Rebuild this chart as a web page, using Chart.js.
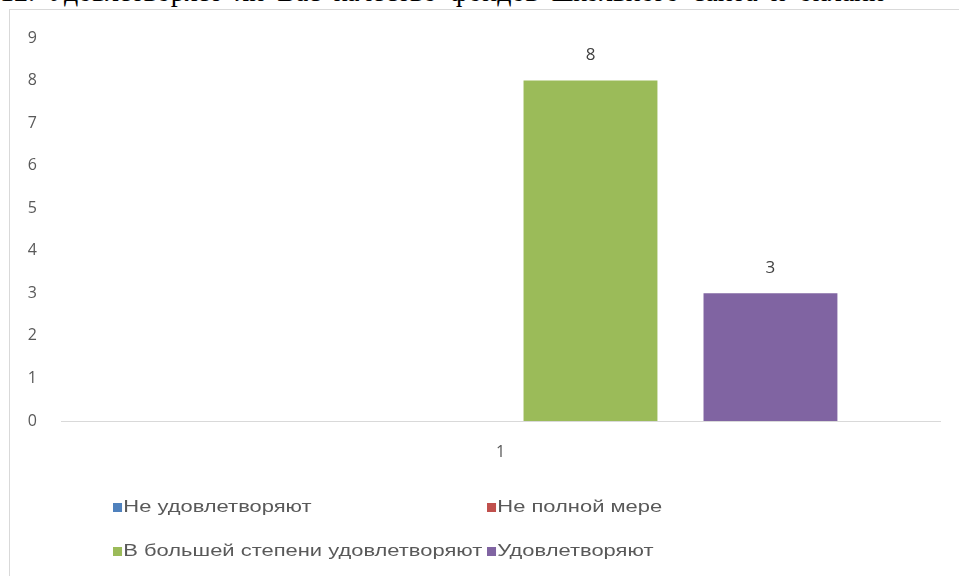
<!DOCTYPE html>
<html>
<head>
<meta charset="utf-8">
<script src="https://cdn.jsdelivr.net/npm/chart.js@4/dist/chart.umd.min.js"></script>
<style>
    body { margin: 0; width: 959px; height: 576px; overflow: hidden; background: #fff; position: relative; }
    #caption {
        position: absolute; left: 0; top: -22px; white-space: nowrap;
        font-family: "Liberation Serif", serif; font-size: 28px; line-height: 28px; color: #000;
        word-spacing: 6px;
    }
    #frame {
        position: absolute; left: 9px; top: 9px; width: 1000px; height: 600px;
        border: 1px solid #d9d9d9; box-sizing: border-box;
    }
    #chartBox { position: absolute; left: 0; top: 0; width: 959px; height: 576px; }
    .legend {
        position: absolute; font-family: "Liberation Sans", sans-serif;
        font-size: 17px; color: #595959; white-space: nowrap; line-height: 20px;
        transform: scaleX(1.29); transform-origin: 0 50%;
    }
    .legend i { display: inline-block; width: 7px; height: 9px; margin-right: 1px; vertical-align: 0px; }
</style>
</head>
<body>
<div id="caption">12. Удовлетворяет ли Вас качество фондов школьного сайта и онлайн</div>
<div id="frame"></div>
<div id="chartBox"><canvas id="chart"></canvas></div>
<div id="legend"></div>

<script>
const categories = ['1'];
const seriesNames = ['Не удовлетворяют', 'Не полной мере', 'В большей степени удовлетворяют', 'Удовлетворяют'];
const seriesValues = [[0], [0], [8], [3]];
const seriesColors = ['#4f81bd', '#c0504d', '#9bbb59', '#8064a2'];
const yTicks = [0, 1, 2, 3, 4, 5, 6, 7, 8, 9];

// values above bars, skipping zeros like the original
const valueLabels = {
    id: 'valueLabels',
    afterDatasetsDraw(chart) {
        const ctx = chart.ctx;
        ctx.save();
        ctx.font = '17px "Open Sans", sans-serif';
        ctx.fillStyle = '#404040';
        ctx.textAlign = 'center';
        ctx.textBaseline = 'middle';
        chart.data.datasets.forEach((ds, i) => {
            chart.getDatasetMeta(i).data.forEach((bar, j) => {
                if (!ds.data[j]) return;
                ctx.fillText(ds.data[j], bar.x, bar.y - 25);
            });
        });
        ctx.restore();
    }
};

new Chart(document.getElementById('chart'), {
    type: 'bar',
    data: {
        labels: categories,
        datasets: seriesNames.map((name, i) => ({
            label: name,
            data: seriesValues[i],
            backgroundColor: seriesColors[i],
            categoryPercentage: 0.819,
            barPercentage: 0.744
        }))
    },
    options: {
        responsive: true,
        maintainAspectRatio: false,
        animation: false,
        layout: { padding: { left: 10, right: 19, top: 38, bottom: 115 } },
        plugins: { legend: { display: false }, tooltip: { enabled: false } },
        scales: {
            x: {
                grid: { display: false },
                border: { color: '#d9d9d9', width: 1 },
                ticks: { color: '#595959', font: { family: 'Open Sans', size: 16 }, padding: 14 },
                afterFit(scale) { scale.height = 40; }
            },
            y: {
                min: 0,
                max: yTicks[yTicks.length - 1],
                grid: { display: false },
                border: { display: false },
                afterBuildTicks(scale) { scale.ticks = yTicks.map(v => ({ value: v })); },
                ticks: { color: '#595959', font: { family: 'Open Sans', size: 16 }, padding: 16 },
                afterFit(scale) { scale.width = 51; }
            }
        }
    },
    plugins: [valueLabels]
});

// two-row legend as in the source picture
const legendPos = [[113, 497], [487, 497], [113, 541], [487, 541]];
const legendBox = document.getElementById('legend');
seriesNames.forEach((name, i) => {
    const el = document.createElement('div');
    el.className = 'legend';
    el.style.left = legendPos[i][0] + 'px';
    el.style.top = legendPos[i][1] + 'px';
    el.innerHTML = '<i style="background:' + seriesColors[i] + '"></i>' + name;
    legendBox.appendChild(el);
});
</script>
</body>
</html>
